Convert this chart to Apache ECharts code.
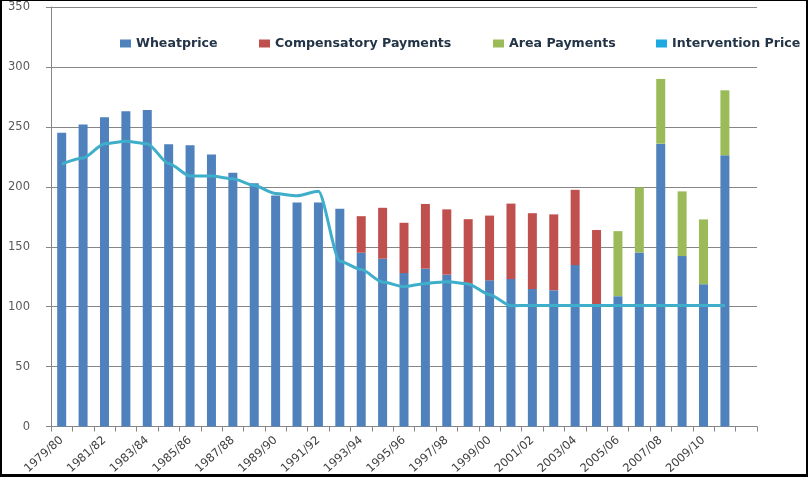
<!DOCTYPE html>
<html>
<head>
<meta charset="utf-8">
<script src="https://cdn.jsdelivr.net/npm/echarts@6/dist/echarts.min.js"></script>
<style>
  html, body { margin: 0; padding: 0; background: #fff; }
  #wrap { position: relative; width: 808px; height: 477px; }
  #chart { width: 808px; height: 477px; }
  #frame {
    position: absolute; left: 0; top: 0; width: 808px; height: 477px;
    box-sizing: border-box; pointer-events: none;
    border-left: 2px solid #000; border-top: 1px solid #000;
    border-right: 2px solid #000; border-bottom: 3px solid #000;
  }
</style>
</head>
<body>
<div id="wrap">
  <div id="chart"></div>
  <div id="frame"></div>
</div>
<script>
// marketing years 1979/80 .. 2011/12
var years = [
  '1979/80', '1980/81', '1981/82', '1982/83', '1983/84', '1984/85', '1985/86',
  '1986/87', '1987/88', '1988/89', '1989/90', '1990/91', '1991/92', '1992/93',
  '1993/94', '1994/95', '1995/96', '1996/97', '1997/98', '1998/99', '1999/00',
  '2000/01', '2001/02', '2002/03', '2003/04', '2004/05', '2005/06', '2006/07',
  '2007/08', '2008/09', '2009/10', '2010/11', '2011/12'
]

var wheatprice = [
  245, 252, 258, 263, 264, 235.5, 234.7, 227, 211.7, 203, 192.7, 187, 187, 181.7,
  145, 140, 128, 131.7, 126.7, 119, 122, 123, 114.7, 113.8, 134.7, 101.7,
  108.8, 145.2, 236, 142.2, 118.8, 226.3, null
]

var compensatory = [
  null, null, null, null, null, null, null, null, null, null, null, null, null, null,
  30.5, 42.5, 42, 54, 54.5, 54, 54, 63, 63.3, 63.2, 62.8, 62.3,
  null, null, null, null, null, null, null
]

var areaPayments = [
  null, null, null, null, null, null, null, null, null, null, null, null, null, null,
  null, null, null, null, null, null, null, null, null, null, null, null,
  54.2, 54.3, 54, 54, 54, 54.2, null
]

var intervention = [
  219, 224, 236, 238, 236, 219.4, 209, 209, 206.7, 201, 194.4, 192.5, 196.3, 138,
  131, 120.5, 116.7, 119.4, 120.8, 119, 110, 100.8, 101, 101, 101, 101,
  101, 101, 101, 101, 101, 101, null
]

var yTicks = [0, 50, 100, 150, 200, 250, 300, 350]

var textFont = 'DejaVu Sans'
var axisGrey = '#868686'

function legendAt(left, name, color) {
  return {
    left: left,
    top: 32,
    icon: 'rect',
    itemWidth: 11,
    itemHeight: 8,
    itemGap: 5,
    selectedMode: false,
    textStyle: { fontFamily: textFont, fontSize: 12.6, color: '#243447', fontWeight: 'bold' },
    data: [{ name: name, icon: 'rect', itemStyle: { color: color } }]
  }
}

var chart = echarts.init(document.getElementById('chart'))

var option = {
  animation: false,
  backgroundColor: '#fff',
  grid: { left: 51, right: 51, top: 7, bottom: 50 },
  legend: [
    legendAt(115, 'Wheatprice', '#4f81bd'),
    legendAt(254, 'Compensatory Payments', '#c0504d'),
    legendAt(488, 'Area Payments', '#9bbb59'),
    legendAt(651, 'Intervention Price', '#1fa9e1')
  ],
  xAxis: {
    type: 'category',
    data: years,
    boundaryGap: true,
    axisLine: { lineStyle: { color: axisGrey, width: 1 } },
    axisTick: { show: true, length: 5, interval: 0, lineStyle: { color: axisGrey } },
    axisLabel: {
      // every second year, last (empty) year unlabelled
      interval: function (index) { return index % 2 === 0 && index < years.length - 1 },
      rotate: 42,
      margin: 12,
      fontFamily: textFont,
      fontSize: 11.5,
      color: '#404040'
    },
    splitLine: { show: false }
  },
  yAxis: {
    type: 'value',
    min: 0,
    max: 350,
    interval: 50,
    axisLine: { show: true, lineStyle: { color: axisGrey } },
    axisTick: { show: true, length: 5, lineStyle: { color: axisGrey } },
    axisLabel: {
      margin: 21,
      fontFamily: textFont,
      fontSize: 11.5,
      color: '#595959',
      formatter: function (v) { return yTicks.indexOf(v) >= 0 ? String(v) : '' }
    },
    splitLine: { lineStyle: { color: axisGrey, width: 1 } }
  },
  series: [
    {
      name: 'Wheatprice',
      type: 'bar',
      stack: 'price',
      barWidth: 9,
      itemStyle: { color: '#4f81bd' },
      data: wheatprice
    },
    {
      name: 'Compensatory Payments',
      type: 'bar',
      stack: 'price',
      barWidth: 9,
      itemStyle: { color: '#c0504d' },
      data: compensatory
    },
    {
      name: 'Area Payments',
      type: 'bar',
      stack: 'price',
      barWidth: 9,
      itemStyle: { color: '#9bbb59' },
      data: areaPayments
    },
    {
      name: 'Intervention Price',
      type: 'line',
      smooth: 0.25,
      smoothMonotone: 'x',
      showSymbol: false,
      symbol: 'none',
      itemStyle: { color: '#1fa9e1' },
      lineStyle: { color: '#3eaecb', width: 3 },
      data: intervention
    }
  ]
}

chart.setOption(option)
</script>
</body>
</html>
